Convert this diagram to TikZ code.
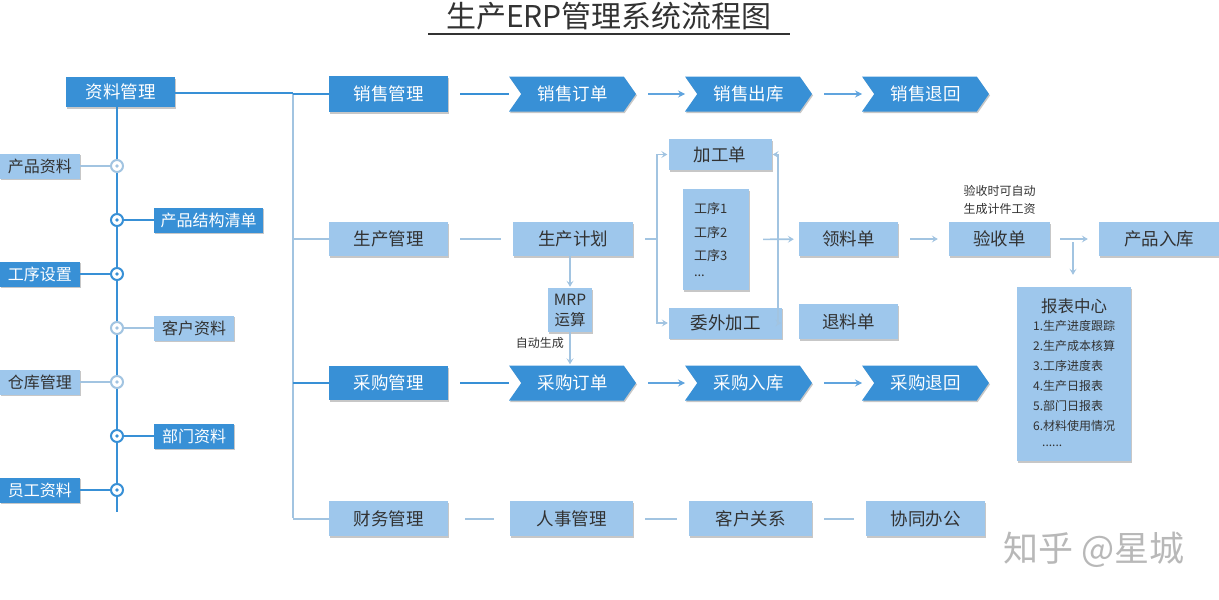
\documentclass[tikz,border=0pt]{standalone}
\usepackage{fontspec}
\setmainfont{Noto Sans CJK SC}
\usetikzlibrary{shapes.symbols,shadows,arrows.meta,positioning}
\definecolor{darkblue}{RGB}{56,144,214}
\definecolor{lightblue}{RGB}{158,199,236}
\definecolor{linelight}{RGB}{162,196,225}
\definecolor{arrblue}{RGB}{96,164,222}
\definecolor{txt}{RGB}{50,50,50}
\newcommand{\fs}[1]{\fontsize{#1}{#1}\selectfont}
\newcommand{\fsl}[2]{\fontsize{#1}{#2}\selectfont}
\tikzset{
  base/.style={rectangle, inner sep=0pt, font=\fs{17.5},
    drop shadow={shadow xshift=1pt, shadow yshift=-1.5pt, fill=black!22, opacity=1}},
  darkbox/.style={base, fill=darkblue, text=white},
  lightbox/.style={base, fill=lightblue, text=txt},
  chev/.style={darkbox, signal, signal to=east, signal from=west,
    signal pointer angle=110, minimum width=127pt, minimum height=35pt},
  dotdark/.style={circle, draw=darkblue, line width=2pt, fill=white, minimum size=12pt, inner sep=0pt,
    path picture={\fill[darkblue] (path picture bounding box.center) circle (1.8pt);}},
  dotlight/.style={circle, draw=linelight, line width=2pt, fill=white, minimum size=12pt, inner sep=0pt,
    path picture={\fill[linelight] (path picture bounding box.center) circle (1.8pt);}},
  dline/.style={darkblue, line width=2.2pt},
  lline/.style={linelight, line width=2pt},
  darr/.style={arrblue, line width=1.4pt, -{Stealth[length=7pt, width=7pt, inset=2.5pt]}},
  larr/.style={linelight, line width=1.6pt, -{Stealth[length=6pt, width=7pt, inset=2.5pt]}},
  gap/.style={shorten <=12pt, shorten >=12pt},
  note/.style={font=\fsl{12}{18}, text=txt, align=center, inner sep=0pt},
}
\begin{document}
\begin{tikzpicture}[x=1pt, y=-1pt]
  \useasboundingbox (0,0) rectangle (1219,600);
  % title
  \node[font=\fs{30}, text=txt] (title) at (609,16) {生产ERP管理系统流程图};
  \draw[txt, line width=2pt] (428,34) -- (790,34);

  % master data column
  \node[darkbox, minimum width=109pt, minimum height=30pt] (zlgl) at (120.5,92) {资料管理};
  \coordinate (trunkend) at (117,512);
  \draw[dline] (zlgl.south -| trunkend) -- (trunkend);

  \node[dotlight] (d1) at (117,166) {};
  \node[dotdark]  (d2) at (117,220) {};
  \node[dotdark]  (d3) at (117,274) {};
  \node[dotlight] (d4) at (117,328) {};
  \node[dotlight] (d5) at (117,382) {};
  \node[dotdark]  (d6) at (117,436) {};
  \node[dotdark]  (d7) at (117,490) {};

  \node[lightbox, font=\fs{16}, minimum width=80pt, minimum height=25pt] (cpzl) at (40,166) {产品资料};
  \node[darkbox, font=\fs{16}, minimum width=109pt, minimum height=25pt] (cpjg) at (208.5,220) {产品结构清单};
  \node[darkbox, font=\fs{16}, minimum width=80pt, minimum height=25pt] (gxsz) at (40,274) {工序设置};
  \node[lightbox, font=\fs{16}, minimum width=80pt, minimum height=25pt] (khzl) at (194,328) {客户资料};
  \node[lightbox, font=\fs{16}, minimum width=80pt, minimum height=25pt] (ckgl) at (40,382) {仓库管理};
  \node[darkbox, font=\fs{16}, minimum width=80pt, minimum height=25pt] (bmzl) at (194,436) {部门资料};
  \node[darkbox, font=\fs{16}, minimum width=80pt, minimum height=25pt] (ygzl) at (40,490) {员工资料};

  \draw[lline] (cpzl) -- (d1);
  \draw[dline] (d2) -- (cpjg);
  \draw[dline] (gxsz) -- (d3);
  \draw[lline] (d4) -- (khzl);
  \draw[lline] (ckgl) -- (d5);
  \draw[dline] (d6) -- (bmzl);
  \draw[dline] (ygzl) -- (d7);

  % bus
  \coordinate (bus) at (293,93);
  \coordinate (busend) at (293,518);
  \draw[lline] (bus) -- (busend);
  \draw[dline] (zlgl.east |- bus) -- (bus);

  % row 1: sales
  \node[darkbox, minimum width=119pt, minimum height=36pt] (xsgl) at (388.5,94) {销售管理};
  \node[chev] (xsdd) at (572.5,94) {销售订单};
  \node[chev] (xsck) at (748.5,94) {销售出库};
  \node[chev] (xsth) at (925.5,94) {销售退回};
  \draw[dline] (bus |- xsgl) -- (xsgl);
  \draw[dline, gap] (xsgl.east) -- (xsdd.west);
  \draw[darr, gap] (xsdd.east) -- (xsck.west);
  \draw[darr, gap] (xsck.east) -- (xsth.west);

  % row 2: production
  \node[lightbox, minimum width=119pt, minimum height=34pt] (scgl) at (388.5,239) {生产管理};
  \node[lightbox, minimum width=120pt, minimum height=34pt] (scjh) at (573,239) {生产计划};
  \draw[lline] (bus |- scgl) -- (scgl);
  \draw[lline, gap] (scgl) -- (scjh);

  \node[lightbox, minimum width=103pt, minimum height=31pt] (jgd) at (720,154.5) {加工单};
  \node[lightbox, minimum width=113pt, minimum height=31pt] (wwjg) at (725.5,323) {委外加工};
  \node[lightbox, font=\fsl{13}{23.5}, align=left, text width=44pt, minimum width=66pt, minimum height=101pt]
    (gx) at (716,239.5) {工序1\\工序2\\工序3\\[-8pt]...};
  \coordinate (bl) at (657,239);
  \coordinate (br) at (778,239);
  \draw[lline, shorten <=12pt] (scjh) -- (bl);
  \draw[larr, shorten >=1pt] (bl) |- (jgd);
  \draw[larr, shorten >=1pt] (bl) |- (wwjg);
  \draw[larr, shorten >=1pt] (br) |- (jgd);
  \draw[larr, shorten >=1pt] (br) |- (wwjg);

  \node[lightbox, minimum width=99pt, minimum height=34pt] (lld) at (848.5,239) {领料单};
  \node[lightbox, minimum width=99pt, minimum height=35pt] (tld) at (848.5,321.5) {退料单};
  \draw[larr, shorten <=14pt, shorten >=5pt] (gx) -- (lld);

  \node[lightbox, minimum width=101pt, minimum height=34pt] (ysd) at (999.5,239) {验收单};
  \node[note, above=7pt of ysd] (ysnote) {验收时可自动\\生成计件工资};
  \node[lightbox, minimum width=120pt, minimum height=34pt] (cprk) at (1159,239) {产品入库};
  \draw[larr, shorten <=12pt, shorten >=11pt] (lld) -- (ysd);
  \draw[larr, shorten <=10pt, shorten >=11pt] (ysd) -- (cprk);

  \node[lightbox, minimum width=114pt, minimum height=174pt] (bbzx) at (1074,374) {};
  \node[font=\fs{16.5}, text=txt, below=8pt of bbzx.north] (bbtitle) {报表中心};
  \node[note, align=left, anchor=north west, font=\fsl{12}{20}] (bblist) at (1033,320)
    {1.生产进度跟踪\\2.生产成本核算\\3.工序进度表\\4.生产日报表\\5.部门日报表\\6.材料使用情况\\[-4pt]\hspace*{9pt}......};
  \coordinate (vsplit) at (1073,242);
  \draw[larr, shorten >=12pt] (vsplit) -- (vsplit |- bbzx.north);

  \node[lightbox, font=\fsl{15.5}{20}, align=center, minimum width=44pt, minimum height=44pt] (mrp) at (570,310) {MRP\\运算};
  \draw[larr, shorten >=1pt] (mrp.north |- scjh.south) -- (mrp.north);
  \node[note, anchor=east] (zdsc) at (564,343) {自动生成};

  % row 3: purchasing
  \node[darkbox, minimum width=119pt, minimum height=34pt] (cggl) at (388.5,383) {采购管理};
  \node[chev] (cgdd) at (572.5,383) {采购订单};
  \node[chev] (cgrk) at (748.5,383) {采购入库};
  \node[chev] (cgth) at (925.5,383) {采购退回};
  \draw[dline] (bus |- cggl) -- (cggl);
  \draw[dline, gap] (cggl.east) -- (cgdd.west);
  \draw[darr, gap] (cgdd.east) -- (cgrk.west);
  \draw[darr, gap] (cgrk.east) -- (cgth.west);
  \draw[larr, shorten >=1pt] (mrp.south) -- (mrp.south |- cgdd.north);

  % row 4: other modules
  \node[lightbox, minimum width=119pt, minimum height=35pt] (cwgl) at (388.5,518.5) {财务管理};
  \node[lightbox, minimum width=123pt, minimum height=35pt] (rsgl) at (571.5,518.5) {人事管理};
  \node[lightbox, minimum width=123pt, minimum height=35pt] (khgx) at (750.5,518.5) {客户关系};
  \node[lightbox, minimum width=119pt, minimum height=35pt] (xtbg) at (925.5,518.5) {协同办公};
  \draw[lline] (bus |- cwgl) -- (cwgl);
  \draw[lline, shorten <=17pt, shorten >=16pt] (cwgl) -- (rsgl);
  \draw[lline, gap] (rsgl) -- (khgx);
  \draw[lline, gap] (khgx) -- (xtbg);

  % watermark
  \node[font=\fs{35}, text=black!28] (mark) at (1094,550) {知乎 @星城};
\end{tikzpicture}
\end{document}
